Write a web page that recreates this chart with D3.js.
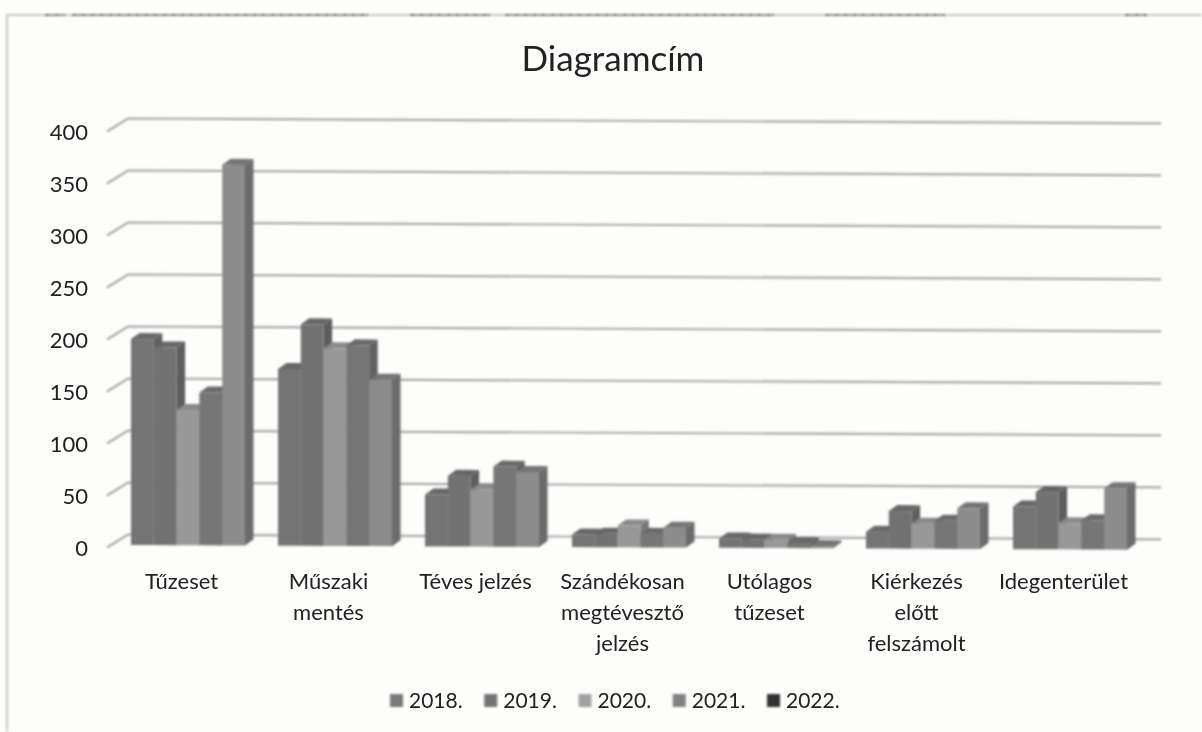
<!DOCTYPE html>
<html><head><meta charset="utf-8">
<script src="https://cdn.jsdelivr.net/npm/d3@7"></script>
<style>html,body{margin:0;padding:0;background:#fdfdfc}svg{display:block}text{font-family:Lato,"Open Sans",sans-serif;fill:#222}</style>
</head><body><svg id="c" width="1202" height="732"></svg>
<script>
const categories=[["Tűzeset"],["Műszaki","mentés"],["Téves jelzés"],["Szándékosan","megtévesztő","jelzés"],["Utólagos","tűzeset"],["Kiérkezés","előtt","felszámolt"],["Idegenterület"]];
const years=["2018.","2019.","2020.","2021.","2022."];
const v2018=[198,170,50,12,9,16,41];
const v2019=[190,213,68,13,8,36,55];
const v2020=[130,190,55,21,8,24,25];
const v2021=[147,193,77,13,5,27,28];
const v2022=[366,160,72,19,2,39,59];
const series=[v2018,v2019,v2020,v2021,v2022];
const ticks=[0,50,100,150,200,250,300,350,400];
const frontCol=["#747474","#727272","#989898","#767676","#8c8c8c"];
const sideCol=["#5f5f5f","#5d5d5d","#777777","#606060","#6b6b6b"];
const topCol=["#686868","#666666","#8a8a8a","#6a6a6a","#757575"];
const legendCol=["#7b7b7b","#747474","#a2a2a2","#828282","#333333"];

const svg=d3.select("#c");
const g=svg.append("g").style("filter","blur(0.8px)");
const t=svg.append("g").style("filter","blur(0.35px)");
const x0=d3.scaleBand().domain(d3.range(categories.length)).range([114.5,1143.5]);
const x1=d3.scaleBand().domain(d3.range(years.length)).range([16.5,130.5]);
const h=d3.scaleLinear().domain([0,400]).range([0,416]);
const tilt=0.0047, frontBase=545, backBase=534.5, dx=8.5, dy=6;
const fy=(x,v)=>frontBase+(x-131)*tilt-h(v);
const by=(x,v)=>backBase+(x-128)*tilt-h(v);

g.append("path").attr("d","M7,732V15H1202").attr("fill","none").attr("stroke","#b9b9b9").attr("stroke-width",1.5);
[[45,65],[72,368],[410,490],[505,775],[825,945],[1125,1147]].forEach(s=>
 g.append("line").attr("x1",s[0]).attr("x2",s[1]).attr("y1",15).attr("y2",15).attr("stroke","#555").attr("stroke-width",1.5).attr("stroke-dasharray","5 1 2 1"));

ticks.forEach(v=>{
 g.append("path").attr("fill","none").attr("stroke","#aaaaaa").attr("stroke-width",2.2)
  .attr("d",d3.line()([[107,by(128,v)+13],[128,by(128,v)],[1161,by(1161,v)]]));
 t.append("text").attr("x",88).attr("y",by(128,v)+13).attr("text-anchor","end").attr("dominant-baseline","central").attr("font-size",22).text(v);
});

const line=d3.line();
categories.forEach((c,i)=>{
 series.forEach((s,j)=>{
  const v=s[i], xa=x0(i)+x1(j), xb=xa+x1.bandwidth();
  const ya0=fy(xa,0), yb0=fy(xb,0), ya=fy(xa,v), yb=fy(xb,v);
  g.append("path").attr("fill",sideCol[j]).attr("d",line([[xb,yb],[xb+dx,yb-dy],[xb+dx,yb0-dy],[xb,yb0]])+"Z");
  g.append("path").attr("fill",topCol[j]).attr("d",line([[xa,ya],[xa+dx,ya-dy],[xb+dx,yb-dy],[xb,yb]])+"Z");
  g.append("path").attr("fill",frontCol[j]).attr("d",line([[xa,ya],[xb,yb],[xb,yb0],[xa,ya0]])+"Z");
 });
 c.forEach((s,k)=>{
  t.append("text").attr("x",x0(i)+x0.bandwidth()/2-6.5).attr("y",589+k*31).attr("text-anchor","middle").attr("font-size",22).text(s);
 });
});

t.append("text").attr("x",613).attr("y",71).attr("text-anchor","middle").attr("font-size",35).text("Diagramcím");

const lx=d3.scalePoint().domain(years).range([390,767]);
years.forEach((y,j)=>{
 g.append("rect").attr("x",lx(y)).attr("y",694).attr("width",13).attr("height",13).attr("fill",legendCol[j]);
 t.append("text").attr("x",lx(y)+19).attr("y",708).attr("font-size",21).text(y);
});
</script></body></html>
